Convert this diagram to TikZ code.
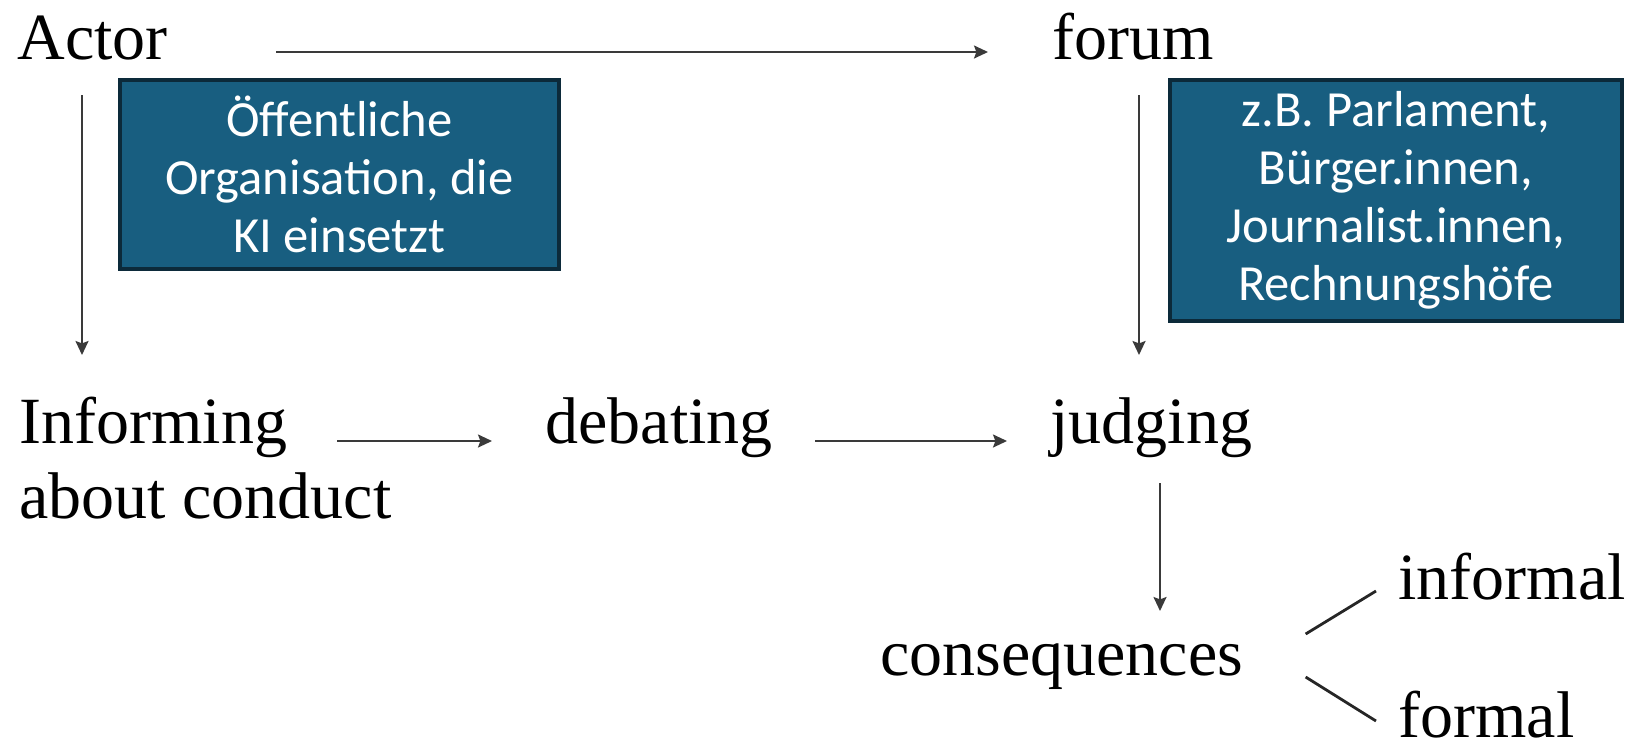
\documentclass[tikz,border=0pt]{standalone}
\usepackage{fontspec}
\setmainfont{Liberation Serif}
\newfontfamily\boxfont{Carlito}
\usetikzlibrary{calc,arrows.meta}

\definecolor{boxfill}{HTML}{185E80}
\definecolor{boxedge}{HTML}{0C2A3A}
\definecolor{linegray}{HTML}{3A3A3A}

\tikzset{
  term/.style={inner sep=0pt, anchor=base west, font=\fontsize{33pt}{40pt}\selectfont},
  notebox/.style={draw=boxedge, line width=1.8pt, fill=boxfill, text=white,
    align=center, inner sep=0pt,
    font=\boxfont\fontsize{25.3pt}{29pt}\selectfont},
  flow/.style={draw=linegray, line width=1pt,
    -{Stealth[length=7pt,width=6.5pt,inset=1.2pt]}},
  branch/.style={draw=black!85, line width=1.4pt}
}

\begin{document}
\begin{tikzpicture}[x=0.5pt, y=-0.5pt]
  \useasboundingbox (0,0) rectangle (1628,751);

  % terms of the accountability chain
  \node[term] (actor)        at (17,59)   {Actor};
  \node[term] (forum)        at (1052,59) {forum};
  \node[term] (inform)       at (19,443)  {Informing};
  \node[term] (conduct)      at (19,518)  {about conduct};
  \node[term] (debating)     at (545,443) {debating};
  \node[term] (judging)      at (1050,443){judging};
  \node[term] (consequences) at (880,675) {consequences};
  \node[term] (informal)     at (1398,599){informal};
  \node[term] (formal)       at (1398,737){formal};

  % explanatory boxes
  \node[notebox, minimum width=219.5pt, minimum height=94.5pt] (actorbox)
    at (339.5,174.5) {Öffentliche\\Organisation, die\\KI einsetzt};
  \node[notebox, minimum width=226pt, minimum height=120.5pt] (forumbox)
    at (1396,200.5) {z.B. Parlament,\\Bürger.innen,\\Journalist.innen,\\Rechnungshöfe};

  % arrows
  \draw[flow] ($(actor.base east)+(108,-7)$) -- ($(forum.base west)+(-64,-7)$);
  \draw[flow] ($(actor.base west)+(65,36)$) -- ($(inform.base west)+(63,-88)$);
  \draw[flow] ($(forum.base west)+(87,36)$) -- ($(judging.base west)+(89,-88)$);
  \draw[flow] ($(inform.base east)+(50,-2)$) -- ($(debating.base west)+(-53,-2)$);
  \draw[flow] ($(debating.base east)+(42,-2)$) -- ($(judging.base west)+(-43,-2)$);
  \draw[flow] ($(judging.base west)+(110,40)$) -- ($(consequences.base west)+(280,-64)$);

  % branches of consequences
  \draw[branch] ($(consequences.base east)+(62,-41)$) -- ($(informal.base west)+(-22,-8)$);
  \draw[branch] ($(consequences.base east)+(62,2)$) -- ($(formal.base west)+(-22,-16)$);
\end{tikzpicture}
\end{document}
